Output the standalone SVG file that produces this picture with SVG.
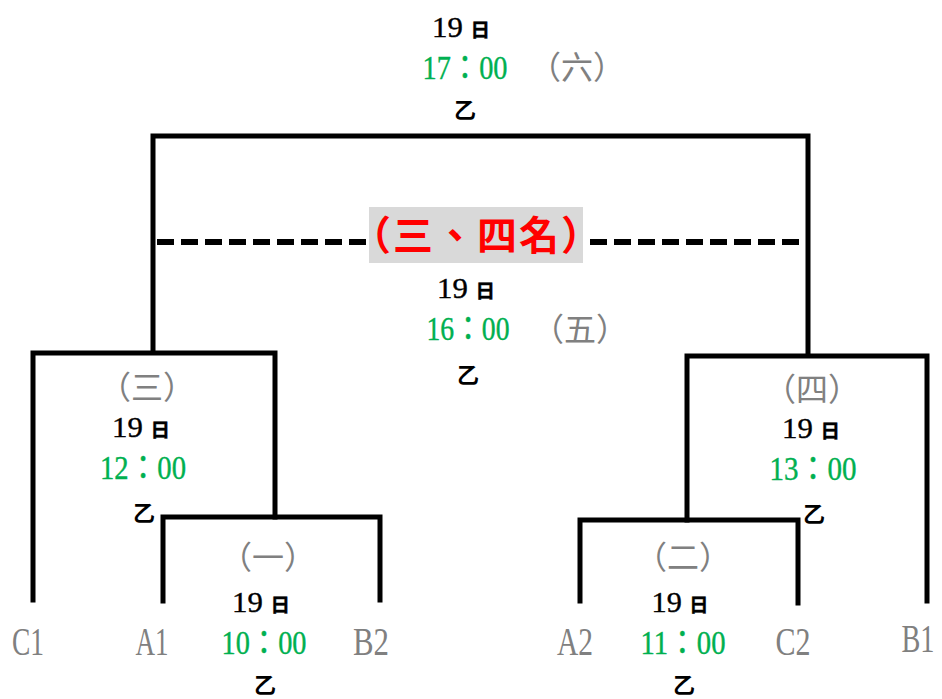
<svg xmlns="http://www.w3.org/2000/svg" width="942" height="699" viewBox="0 0 942 699">
<style>
.ln{fill:none;stroke:#000;stroke-width:5;stroke-linecap:square}
.dash{fill:none;stroke:#000;stroke-width:6;stroke-dasharray:17 7}
text{text-anchor:middle}
.dt{font-family:"Liberation Serif","Noto Sans CJK TC",serif;font-size:30px;fill:#000;stroke:#000;stroke-width:0.4}
.dt tspan.k{font-family:"Noto Sans CJK TC",sans-serif;font-weight:bold;font-size:19px}
.tm{font-family:"Liberation Serif","Noto Sans CJK TC",serif;font-size:33px;fill:#00b050;stroke:#00b050;stroke-width:0.4}
.gn{font-family:"Noto Sans CJK TC",sans-serif;font-size:32px;fill:#808080}
.yi{font-family:"Noto Sans CJK TC",sans-serif;font-weight:bold;font-size:22px;fill:#000}
.tm2{font-family:"Liberation Serif",serif;font-size:40px;fill:#808080}
.red{font-family:"Noto Sans CJK TC",sans-serif;font-weight:bold;font-size:40px;fill:#ff0000}
</style>
<rect width="942" height="699" fill="#fff"/>
<g id="connectors">
<path class="ln" d="M153 352 V136 H808 V355"/>
<path class="ln" d="M33 600 V353 H275 V517"/>
<path class="ln" d="M163 601 V517 H380 V600"/>
<path class="ln" d="M687 520 V356 H927 V601"/>
<path class="ln" d="M580 601 V520 H798 V603"/>
<line class="dash" x1="157" y1="242" x2="367" y2="242"/>
<line class="dash" x1="590" y1="242" x2="800" y2="242"/>
</g>
<g id="final-6">
<text class="dt" x="461" y="37" textLength="58" lengthAdjust="spacingAndGlyphs">19 <tspan class="k">日</tspan></text>
<text class="tm" x="465" y="79" textLength="85" lengthAdjust="spacingAndGlyphs">17：00</text>
<text class="gn" x="577" y="79">（六）</text>
<text class="yi" x="465" y="118">乙</text>
</g>
<g id="third-place-5">
<rect x="369" y="207" width="214" height="56" fill="#d9d9d9"/>
<text class="red" x="476" y="250" textLength="250" lengthAdjust="spacing">（三、四名）</text>
<text class="dt" x="466" y="298" textLength="58" lengthAdjust="spacingAndGlyphs">19 <tspan class="k">日</tspan></text>
<text class="tm" x="468" y="340" textLength="83" lengthAdjust="spacingAndGlyphs">16：00</text>
<text class="gn" x="580" y="341">（五）</text>
<text class="yi" x="468" y="383">乙</text>
</g>
<g id="match-3">
<text class="gn" x="147" y="399">（三）</text>
<text class="dt" x="141" y="437" textLength="58" lengthAdjust="spacingAndGlyphs">19 <tspan class="k">日</tspan></text>
<text class="tm" x="143" y="479" textLength="86" lengthAdjust="spacingAndGlyphs">12：00</text>
<text class="yi" x="144" y="521">乙</text>
</g>
<g id="match-4">
<text class="gn" x="812" y="401">（四）</text>
<text class="dt" x="811" y="438" textLength="58" lengthAdjust="spacingAndGlyphs">19 <tspan class="k">日</tspan></text>
<text class="tm" x="813" y="480" textLength="87" lengthAdjust="spacingAndGlyphs">13：00</text>
<text class="yi" x="814" y="522">乙</text>
</g>
<g id="match-1">
<text class="gn" x="268" y="569">（一）</text>
<text class="dt" x="261" y="612" textLength="58" lengthAdjust="spacingAndGlyphs">19 <tspan class="k">日</tspan></text>
<text class="tm" x="264" y="654" textLength="85" lengthAdjust="spacingAndGlyphs">10：00</text>
<text class="yi" x="265" y="693">乙</text>
</g>
<g id="match-2">
<text class="gn" x="683" y="569">（二）</text>
<text class="dt" x="680" y="612" textLength="57" lengthAdjust="spacingAndGlyphs">19 <tspan class="k">日</tspan></text>
<text class="tm" x="683" y="654" textLength="85" lengthAdjust="spacingAndGlyphs">11：00</text>
<text class="yi" x="684" y="693">乙</text>
</g>
<g id="team-C1"><text class="tm2" x="28" y="655" textLength="32" lengthAdjust="spacingAndGlyphs">C1</text></g>
<g id="team-A1"><text class="tm2" x="152" y="655" textLength="33" lengthAdjust="spacingAndGlyphs">A1</text></g>
<g id="team-B2"><text class="tm2" x="371" y="655" textLength="36" lengthAdjust="spacingAndGlyphs">B2</text></g>
<g id="team-A2"><text class="tm2" x="575" y="655" textLength="36" lengthAdjust="spacingAndGlyphs">A2</text></g>
<g id="team-C2"><text class="tm2" x="793" y="655" textLength="35" lengthAdjust="spacingAndGlyphs">C2</text></g>
<g id="team-B1"><text class="tm2" x="918" y="652" textLength="33" lengthAdjust="spacingAndGlyphs">B1</text></g>
</svg>
